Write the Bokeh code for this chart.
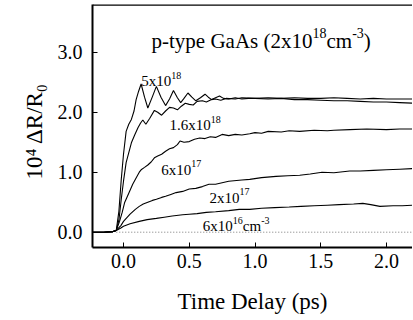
import math
from bokeh.plotting import figure
from bokeh.models import Range1d, FixedTicker, Label, Span, Title
from bokeh.embed import file_html
from bokeh.resources import INLINE

# ---- data ----
t1 = [-0.24, -0.15, -0.08, -0.055, -0.035, -0.017, 0.0, 0.02, 0.04, 0.06, 0.08, 0.096, 0.115, 0.134, 0.16,
      0.185, 0.22, 0.25, 0.285, 0.32, 0.35, 0.38, 0.41, 0.435, 0.46, 0.49, 0.52, 0.55, 0.585, 0.62, 0.645,
      0.67, 0.70, 0.73, 0.76, 0.80, 0.85, 0.90, 0.95, 1.0, 1.1, 1.2, 1.3, 1.4, 1.5, 1.6, 1.7, 1.8, 1.9, 2.0, 2.1, 2.2]
v1 = [0.0, 0.0, 0.01, 0.03, 0.35, 0.88, 1.30, 1.68, 1.80, 1.88, 2.02, 2.21, 2.35, 2.47, 2.25,
      2.07, 2.26, 2.43, 2.25, 2.11, 2.22, 2.36, 2.24, 2.16, 2.23, 2.32, 2.25, 2.19, 2.24, 2.30, 2.25,
      2.21, 2.24, 2.27, 2.23, 2.22, 2.24, 2.22, 2.23, 2.23, 2.22, 2.23, 2.21, 2.21, 2.20, 2.19, 2.19, 2.18, 2.17, 2.17, 2.16, 2.15]

t2 = [-0.24, -0.15, -0.08, -0.055, -0.035, -0.017, 0.0, 0.02, 0.06, 0.085, 0.11, 0.13, 0.147, 0.17, 0.20,
      0.235, 0.26, 0.29, 0.32, 0.35, 0.38, 0.41, 0.44, 0.47, 0.50, 0.53, 0.56, 0.60, 0.63, 0.67, 0.70, 0.74,
      0.78, 0.85, 0.9, 1.0, 1.1, 1.2, 1.3, 1.4, 1.5, 1.6, 1.7, 1.8, 1.9, 2.0, 2.1, 2.2]
v2 = [0.0, 0.0, 0.01, 0.03, 0.2, 0.55, 0.85, 1.16, 1.49, 1.62, 1.74, 1.82, 1.87, 1.80, 1.90,
      2.03, 2.0, 1.95, 2.02, 2.08, 2.07, 2.04, 2.10, 2.15, 2.13, 2.12, 2.18, 2.19, 2.17, 2.21, 2.22, 2.20,
      2.23, 2.22, 2.24, 2.23, 2.24, 2.23, 2.24, 2.23, 2.23, 2.24, 2.23, 2.22, 2.23, 2.22, 2.22, 2.22]

t3 = [-0.24, -0.15, -0.08, -0.055, -0.03, -0.01, 0.008, 0.04, 0.07, 0.10, 0.12, 0.134, 0.16, 0.185, 0.21,
      0.235, 0.26, 0.29, 0.32, 0.35, 0.38, 0.41, 0.43, 0.46, 0.50, 0.54, 0.58, 0.62, 0.66, 0.70, 0.75, 0.80,
      0.85, 0.9, 0.96, 1.0, 1.05, 1.1, 1.2, 1.26, 1.34, 1.45, 1.55, 1.6, 1.72, 1.85, 2.0, 2.1, 2.2]
v3 = [0.0, 0.0, 0.01, 0.03, 0.18, 0.33, 0.49, 0.65, 0.8, 0.92, 1.0, 1.04, 1.08, 1.12, 1.17,
      1.24, 1.27, 1.30, 1.35, 1.39, 1.41, 1.46, 1.52, 1.50, 1.51, 1.55, 1.57, 1.56, 1.59, 1.58, 1.63, 1.61,
      1.63, 1.62, 1.64, 1.66, 1.65, 1.68, 1.67, 1.69, 1.68, 1.70, 1.69, 1.70, 1.71, 1.72, 1.71, 1.72, 1.72]

t4 = [-0.24, -0.15, -0.08, -0.055, -0.02, 0.0, 0.05, 0.09, 0.12, 0.15, 0.185, 0.22, 0.25, 0.29, 0.32,
      0.36, 0.4, 0.45, 0.5, 0.55, 0.6, 0.65, 0.7, 0.8, 0.9, 0.96, 1.05, 1.16, 1.25, 1.34, 1.42, 1.51, 1.6,
      1.72, 1.8, 1.9, 2.0, 2.1, 2.2]
v4 = [0.0, 0.0, 0.01, 0.03, 0.11, 0.18, 0.30, 0.38, 0.43, 0.47, 0.50, 0.53, 0.55, 0.58, 0.60,
      0.63, 0.66, 0.68, 0.72, 0.73, 0.76, 0.80, 0.80, 0.85, 0.87, 0.88, 0.91, 0.93, 0.94, 0.95, 0.97, 1.0, 0.99,
      1.02, 1.02, 1.03, 1.04, 1.05, 1.06]

t5 = [-0.24, -0.15, -0.08, -0.055, -0.02, 0.0, 0.05, 0.12, 0.18, 0.25, 0.31, 0.37, 0.45, 0.5, 0.56,
      0.63, 0.7, 0.8, 0.88, 0.96, 1.05, 1.15, 1.26, 1.35, 1.45, 1.55, 1.64, 1.75, 1.82, 1.88, 1.95, 2.05, 2.12, 2.2]
v5 = [0.0, 0.0, 0.01, 0.03, 0.07, 0.10, 0.14, 0.18, 0.21, 0.23, 0.25, 0.27, 0.29, 0.30, 0.31,
      0.33, 0.34, 0.36, 0.38, 0.38, 0.40, 0.41, 0.42, 0.43, 0.44, 0.45, 0.46, 0.47, 0.48, 0.46, 0.43, 0.44, 0.44, 0.45]

zero_t = [-0.055, 2.2]
zero_v = [0.0, 0.0]

x_ticks = [0.0, 0.5, 1.0, 1.5, 2.0]
x_tick_labels = ["0.0", "0.5", "1.0", "1.5", "2.0"]
y_ticks = [0, 1, 2, 3]
y_tick_labels = ["0.0", "1.0", "2.0", "3.0"]
x_title = "Time Delay (ps)"
y_title = "10\u2074 \u0394R/R\u2080"

# ---- layout ----
FONT = "Liberation Serif"
AXFONT = "'Liberation Serif', 'Times New Roman', serif"
W, H = 412, 319
BL, BR, BT, BB = 92, 0, 4, 72
FW, FH = W - BL - BR, H - BT - BB
PX_X = 131.5   # pixels per ps
PX_Y = 60.0    # pixels per unit
X0 = -(124 - 93) / PX_X
X1 = X0 + FW / PX_X
Y0 = -(248 - 232.7) / PX_Y
Y1 = Y0 + FH / PX_Y

def X(px):  # image pixel -> data x
    return X0 + (px - 93) / PX_X

def Y(py):  # image pixel -> data y
    return (232.7 - py) / PX_Y

p = figure(width=W, height=H, x_range=Range1d(X0, X1), y_range=Range1d(Y0, Y1),
           output_backend="svg", toolbar_location=None,
           min_border_left=BL, min_border_right=BR, min_border_top=BT, min_border_bottom=BB)
p.outline_line_color = None
p.grid.visible = False
p.background_fill_color = "white"
p.border_fill_color = "white"

for axes in (p.xaxis, p.yaxis):
    axes.axis_line_width = 2
    axes.axis_line_color = "black"
    axes.major_tick_in = 5
    axes.major_tick_out = 0
    axes.major_tick_line_color = "black"
    axes.minor_tick_line_color = None
    axes.major_label_text_font = AXFONT
    axes.major_label_text_font_size = "20px"
    axes.major_label_text_color = "black"
    axes.axis_label_text_font = AXFONT
    axes.axis_label_text_font_style = "normal"
    axes.axis_label_text_color = "black"

p.xaxis.ticker = FixedTicker(ticks=x_ticks)
p.xaxis.major_label_overrides = {k: s for k, s in zip(x_ticks, x_tick_labels)}
p.xaxis.major_label_standoff = 6
p.xaxis.axis_label = x_title
p.xaxis.axis_label_text_font_size = "23px"
p.xaxis.axis_label_standoff = 18

p.yaxis.ticker = FixedTicker(ticks=y_ticks)
p.yaxis.major_label_overrides = {k: s for k, s in zip(y_ticks, y_tick_labels)}
p.yaxis.major_label_standoff = 10

# vertical title as a side-panel Title; it starts 68 px above the frame bottom
p.add_layout(Title(text=y_title, align="left", offset=68, standoff=16,
                   text_font=FONT, text_font_size="23px", text_font_style="normal",
                   text_color="black"), "left")

p.add_layout(Span(location=Y1, dimension="width", line_color="black", line_width=2.5))

p.line(zero_t, zero_v, line_color="#777777", line_width=1, line_dash="1 2")
for tt, vv in ((t5, v5), (t4, v4), (t3, v3), (t2, v2), (t1, v1)):
    p.line(tt, vv, line_color="black", line_width=1.1)

# ---- texts with superscripts ----
CW = {'.': .25, 'x': .5, 'c': .444, 'm': .778, '-': .333, 'p': .5, 't': .278, 'y': .5, 'e': .444,
      ' ': .25, 'G': .722, 'a': .444, 'A': .722, 's': .389, '(': .333, ')': .333}

def width(s, size):
    return sum(CW.get(ch, .5) for ch in s) * size

def rich(segs, px, py, size, sup_size, raise_px):
    x = px
    for s, sup in segs:
        sz = sup_size if sup else size
        yy = py - raise_px if sup else py
        p.add_layout(Label(x=X(x), y=Y(yy), text=s, text_font=FONT, text_font_size=f"{sz}px",
                           text_baseline="alphabetic", text_align="left", text_color="black"))
        x += width(s, sz)

# title inside the plot
rich([("p-type GaAs (2x10", False), ("18", True), ("cm", False), ("-3", True), (")", False)],
     152, 41.7, 21, 14, 8)

# curve labels
rich([("5x10", False), ("18", True)], 141.7, 81.7, 15, 10, 6)
rich([("1.6x10", False), ("18", True)], 170, 125.7, 15, 10, 6)
rich([("6x10", False), ("17", True)], 161.7, 170, 15, 10, 6)
rich([("2x10", False), ("17", True)], 210, 198.3, 15, 10, 6)
rich([("6x10", False), ("16", True), ("cm", False), ("-3", True)], 203.3, 226.7, 15, 10, 6)

open("out.html", "w").write(file_html(p, INLINE))
